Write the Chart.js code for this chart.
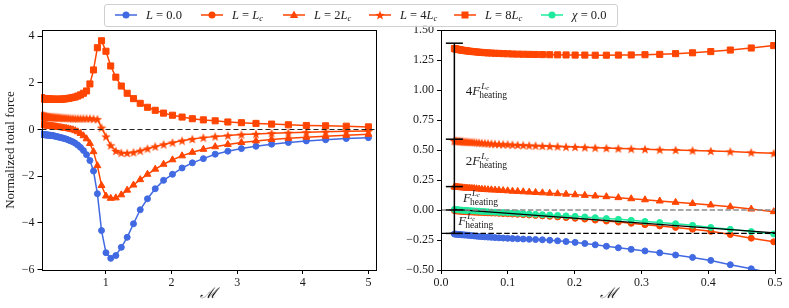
<!DOCTYPE html>
<html><head><meta charset="utf-8">
<script src="https://cdn.jsdelivr.net/npm/chart.js@4.4.1/dist/chart.umd.min.js"></script>
<style>
html,body{margin:0;padding:0;background:#fff;}
#fig{position:relative;width:789px;height:308px;overflow:hidden;font-family:"Liberation Serif",serif;background:#fff;}
canvas{position:absolute;top:0;}
#cl{left:0;}
#cr{left:390px;}
#legend{position:absolute;left:104px;top:4px;width:512px;height:21px;border:1px solid #d0d0d0;border-radius:3px;background:rgba(255,255,255,0.85);}
.ent{position:absolute;top:0;height:21px;}
.ent svg{position:absolute;top:4px;left:0;}
.ent span{position:absolute;top:3px;white-space:nowrap;font-size:12.5px;color:#222;line-height:14px;}
.ent i{font-style:italic;}
.ent sub{font-size:8.5px;vertical-align:-2px;line-height:0;}
</style></head><body>
<div id="fig">
<canvas id="cl" width="385" height="308"></canvas>
<canvas id="cr" width="399" height="308"></canvas>
<div id="legend"></div>
</div>
<script>
// ---------------- data ----------------
const M = [0.02,0.02145,0.02300,0.02467,0.02645,0.02837,0.03042,0.03262,0.03498,0.03752,
0.04023,0.04314,0.04627,0.04962,0.05321,0.05706,0.06119,0.06562,0.07037,0.07546,
0.08093,0.08679,0.09307,0.09981,0.10703,0.11478,0.12309,0.13200,0.14155,0.15180,
0.16279,0.17458,0.18721,0.20077,0.21530,0.23089,0.24760,0.26552,0.28475,0.30536,
0.32746,0.35117,0.37659,0.40386,0.43309,0.46444,0.49807,0.53412,0.57279,0.61425,
0.65872,0.70641,0.75755,0.81239,0.87120,0.93426,1.00190,1.07443,1.15221,1.23562,
1.32507,1.42099,1.52386,1.63417,1.75247,1.87934,2.01539,2.16128,2.31774,2.48553,
2.66546,2.85842,3.06535,3.28725,3.52522,3.78042,4.05410,4.34758,4.66231,5.0];

const L0 = [-.200,-.201,-.202,-.203,-.204,-.205,-.206,-.207,-.208,-.209,
-.210,-.212,-.214,-.216,-.218,-.220,-.222,-.224,-.226,-.228,
-.230,-.232,-.234,-.236,-.238,-.240,-.242,-.244,-.246,-.248,
-.252,-.257,-.263,-.270,-.279,-.290,-.302,-.315,-.328,-.341,
-.357,-.375,-.395,-.420,-.456,-.490,-.530,-.59,-.67,-.77,
-.90,-1.08,-1.33,-1.78,-2.75,-4.33,-5.28,-5.52,-5.40,-5.05,
-4.62,-4.04,-3.44,-2.97,-2.54,-2.18,-1.92,-1.65,-1.43,-1.25,
-1.06,-.93,-.82,-.72,-.63,-.56,-.49,-.44,-.39,-.35];

const L1 = [-.005,-.006,-.007,-.008,-.009,-.010,-.011,-.012,-.013,-.014,
-.015,-.016,-.017,-.018,-.019,-.020,-.021,-.022,-.024,-.025,
-.026,-.028,-.030,-.032,-.034,-.036,-.039,-.042,-.045,-.049,
-.053,-.058,-.063,-.069,-.076,-.084,-.092,-.101,-.111,-.122,
-.133,-.145,-.160,-.178,-.205,-.235,-.265];

const L2 = [.192,.191,.190,.189,.188,.187,.186,.185,.184,.183,
.182,.181,.180,.179,.177,.175,.173,.171,.169,.168,
.166,.164,.162,.160,.157,.155,.152,.149,.146,.143,
.140,.136,.132,.127,.122,.117,.111,.103,.094,.085,
.075,.064,.054,.042,.027,.008,-.014,-.05,-.10,-.17,
-.27,-.40,-.60,-.95,-1.55,-2.40,-2.85,-2.95,-2.93,-2.80,
-2.60,-2.38,-2.15,-1.92,-1.70,-1.49,-1.30,-1.13,-.98,-.85,
-.74,-.64,-.56,-.49,-.43,-.38,-.33,-.29,-.25,-.21];

const L4 = [.578,.577,.576,.575,.574,.573,.572,.571,.570,.569,
.568,.567,.566,.565,.563,.561,.559,.557,.555,.553,
.551,.549,.547,.546,.544,.542,.540,.538,.536,.534,
.532,.530,.527,.525,.522,.519,.516,.513,.510,.507,
.503,.500,.496,.492,.487,.480,.472,.47,.47,.47,
.47,.47,.47,.46,.44,.08,-.30,-.68,-.92,-1.00,
-1.01,-.98,-.91,-.82,-.73,-.64,-.56,-.48,-.41,-.35,
-.30,-.26,-.22,-.19,-.16,-.14,-.12,-.10,-.08,-.07];

const L8 = [1.345,1.343,1.341,1.339,1.337,1.335,1.333,1.331,1.329,1.327,
1.325,1.323,1.321,1.319,1.317,1.315,1.313,1.311,1.309,1.308,
1.306,1.305,1.303,1.302,1.300,1.299,1.298,1.297,1.296,1.295,
1.294,1.293,1.292,1.291,1.291,1.290,1.290,1.291,1.292,1.294,
1.297,1.303,1.310,1.320,1.333,1.350,1.370,1.39,1.43,1.48,
1.55,1.65,1.95,2.55,3.50,3.80,3.35,2.72,2.24,1.86,
1.55,1.32,1.12,.95,.82,.70,.61,.53,.46,.41,
.37,.32,.29,.26,.23,.20,.17,.155,.14,.11];

const CHI0 = [.005,.004,.003,.002,.001,.000,-.001,-.002,-.003,-.004,
-.005,-.006,-.007,-.008,-.009,-.010,-.012,-.013,-.015,-.017,
-.018,-.020,-.021,-.023,-.025,-.028,-.030,-.033,-.036,-.039,
-.042,-.045,-.049,-.053,-.058,-.064,-.071,-.078,-.086,-.095,
-.104,-.114,-.127,-.145,-.161,-.180,-.200];

// reference lines / annotation values
const zeroLevel = 0.0;
const heatingLevel = -0.195;
const slopeX = [0.02, 0.5];
const slopeY = [0.005, -0.19];
const errX = 0.02;
const errLevels = [-0.195, 0.0, 0.195, 0.59, 1.39];
const annotCoef = ['4', '2', '', ''];
const annotX = [0.037, 0.037, 0.033, 0.026];
const annotY = [0.96, 0.375, 0.07, -0.125];

// axes
const leftXLim = [0.02, 5.1], leftYLim = [-6.02, 4.26];
const rightXLim = [0.0, 0.5], rightYLim = [-0.5, 1.5];
const leftXTicks = [1, 2, 3, 4, 5];
const leftYTicks = [-6, -4, -2, 0, 2, 4];
const rightXTicks = [0.0, 0.1, 0.2, 0.3, 0.4, 0.5];
const rightYTicks = [-0.5, -0.25, 0.0, 0.25, 0.5, 0.75, 1.0, 1.25, 1.5];

// ---------------- style ----------------
const BLUE = '#4169E1', ORANGE = '#FF4500', GREEN = '#1EEA9E';
const FONT = '"Liberation Serif", "Times New Roman", serif';
const TXT = '#1a1a1a';

function starImage(color, size) {
  const c = document.createElement('canvas');
  c.width = c.height = size;
  const g = c.getContext('2d');
  g.fillStyle = color;
  g.beginPath();
  const cx = size / 2, cy = size / 2 + 0.5, R = size / 2, r = R * 0.42;
  for (let i = 0; i < 10; i++) {
    const a = -Math.PI / 2 + i * Math.PI / 5;
    const rr = (i % 2) ? r : R;
    g.lineTo(cx + rr * Math.cos(a), cy + rr * Math.sin(a));
  }
  g.closePath(); g.fill();
  return c;
}
const STAR = starImage(ORANGE, 10);

function pts(xs, ys) { return ys.map((y, i) => ({x: xs[i], y})); }

function series(label, ys, color, style, radius, order) {
  return {
    label, data: pts(M, ys), borderColor: color, backgroundColor: color,
    pointStyle: style, pointRadius: radius, pointHoverRadius: radius,
    pointBorderWidth: 1, borderWidth: 1.5, showLine: true, order
  };
}
function hline(y, xlim, color, dash, width, order) {
  return { data: [{x: xlim[0], y}, {x: xlim[1], y}], borderColor: color, borderDash: dash,
    borderWidth: width, pointRadius: 0, showLine: true, order };
}

const minus = s => s.replace('-', '\u2212');

function makeScales(xlim, ylim, xt, yt, xfmt, yfmt, yAxisWidth, ytitle) {
  const grid = { drawOnChartArea: false, drawTicks: true, tickLength: 4, color: '#000', tickWidth: 1 };
  return {
    x: {
      type: 'linear', min: xlim[0], max: xlim[1],
      afterBuildTicks: s => { s.ticks = xt.map(v => ({value: v})); },
      afterFit: s => { s.height = 38; },
      ticks: { callback: v => minus(xfmt(v)), font: {family: FONT, size: 12}, color: TXT, padding: 2, maxRotation: 0, autoSkip: false },
      grid, border: { display: false },
      title: { display: true, text: '\u2133', font: {family: FONT, size: 15, style: 'italic'}, color: TXT, padding: {top: 0, bottom: 5} }
    },
    y: {
      type: 'linear', min: ylim[0], max: ylim[1],
      afterBuildTicks: s => { s.ticks = yt.map(v => ({value: v})); },
      afterFit: s => { s.width = yAxisWidth; },
      ticks: { callback: v => minus(yfmt(v)), font: {family: FONT, size: 12}, color: TXT, padding: 3, autoSkip: false },
      grid, border: { display: false },
      title: ytitle ? { display: true, text: ytitle, font: {family: FONT, size: 13}, color: TXT, padding: {top: 3, bottom: 0} } : { display: false }
    }
  };
}

const frame = {
  id: 'frame',
  afterDraw(chart) {
    const {ctx, chartArea: a} = chart;
    ctx.save();
    ctx.strokeStyle = '#000'; ctx.lineWidth = 1;
    ctx.strokeRect(Math.round(a.left) + 0.5, Math.round(a.top) + 0.5, Math.round(a.right - a.left), Math.round(a.bottom - a.top));
    ctx.restore();
  }
};

const annots = {
  id: 'annots',
  afterDatasetsDraw(chart) {
    const {ctx, scales: {x, y}} = chart;
    ctx.save();
    ctx.fillStyle = TXT; ctx.textBaseline = 'alphabetic'; ctx.textAlign = 'left';
    for (let i = 0; i < annotCoef.length; i++) {
      let px = x.getPixelForValue(annotX[i]);
      const py = y.getPixelForValue(annotY[i]);
      ctx.font = '13px ' + FONT;
      if (annotCoef[i]) { ctx.fillText(annotCoef[i], px, py); px += ctx.measureText(annotCoef[i]).width; }
      ctx.font = 'italic 13px ' + FONT;
      ctx.fillText('F', px, py); px += ctx.measureText('F').width;
      ctx.font = 'italic 9px ' + FONT;
      ctx.fillText('L', px + 1, py - 6);
      const lw = ctx.measureText('L').width;
      ctx.font = 'italic 6.5px ' + FONT;
      ctx.fillText('c', px + 1 + lw, py - 4.5);
      ctx.font = '9.5px ' + FONT;
      ctx.fillText('heating', px - 1, py + 3);
    }
    ctx.restore();
  }
};

const common = {
  responsive: false, animation: false, events: [],
  plugins: { legend: { display: false }, tooltip: { enabled: false } }
};

// ---------------- left chart ----------------
new Chart(document.getElementById('cl'), {
  type: 'scatter',
  data: { datasets: [
    series('L = 0.0', L0, BLUE, 'circle', 3, 9),
    series('L = 2Lc', L2, ORANGE, 'triangle', 4, 8),
    series('L = 4Lc', L4, ORANGE, STAR, 4, 7),
    series('L = 8Lc', L8, ORANGE, 'rect', 4.3, 6),
    hline(zeroLevel, leftXLim, '#222', [5, 3], 1.1, 1)
  ]},
  options: Object.assign({}, common, {
    layout: { padding: { left: 0, top: 30, right: 10, bottom: 0 } },
    scales: makeScales(leftXLim, leftYLim, leftXTicks, leftYTicks, v => String(v), v => String(v), 41.5, 'Normalized total force')
  }),
  plugins: [frame]
});

// ---------------- right chart ----------------
const errVert = { data: [{x: errX, y: errLevels[0]}, {x: errX, y: errLevels[errLevels.length - 1]}],
  borderColor: '#000', borderWidth: 1.5, pointRadius: 0, showLine: true, order: 0 };
const errCaps = { data: errLevels.map(v => ({x: errX, y: v})), pointStyle: 'line', pointRadius: 8.5,
  pointBorderWidth: 1.5, borderColor: '#000', backgroundColor: '#000', showLine: false, order: 0 };
const slope = { data: pts(slopeX, slopeY), borderColor: '#000', borderWidth: 1.3, pointRadius: 0, showLine: true, order: 2 };

new Chart(document.getElementById('cr'), {
  type: 'scatter',
  data: { datasets: [
    series('L = 0.0', L0, BLUE, 'circle', 3, 12),
    series('L = Lc', L1, ORANGE, 'circle', 3, 11),
    series('L = 2Lc', L2, ORANGE, 'triangle', 4, 10),
    series('L = 4Lc', L4, ORANGE, STAR, 4, 9),
    series('L = 8Lc', L8, ORANGE, 'rect', 4.3, 8),
    series('chi = 0.0', CHI0, GREEN, 'circle', 3, 7),
    slope,
    hline(zeroLevel, rightXLim, '#8a8a8a', [5.5, 2.4], 1.4, 1),
    hline(heatingLevel, rightXLim, '#000', [5.5, 2.4], 1.4, 1),
    errVert, errCaps
  ]},
  options: Object.assign({}, common, {
    layout: { padding: { left: 0, top: 30, right: 14, bottom: 0 } },
    scales: makeScales(rightXLim, rightYLim, rightXTicks, rightYTicks, v => v.toFixed(1), v => v.toFixed(2), 51, null)
  }),
  plugins: [frame, annots]
});

// ---------------- legend ----------------
const legendItems = [
  {html: '<i>L</i> = 0.0', color: BLUE, mk: 'circle'},
  {html: '<i>L</i> = <i>L</i><sub><i>c</i></sub>', color: ORANGE, mk: 'circle'},
  {html: '<i>L</i> = 2<i>L</i><sub><i>c</i></sub>', color: ORANGE, mk: 'triangle'},
  {html: '<i>L</i> = 4<i>L</i><sub><i>c</i></sub>', color: ORANGE, mk: 'star'},
  {html: '<i>L</i> = 8<i>L</i><sub><i>c</i></sub>', color: ORANGE, mk: 'rect'},
  {html: '<i>\u03C7</i> = 0.0', color: GREEN, mk: 'circle'}
];
const legendMarkerX = [10, 96, 178, 264, 349, 436];
function markerSvg(mk, c) {
  let m = '';
  if (mk === 'circle') m = `<circle cx="11" cy="6" r="3.5" fill="${c}"/>`;
  if (mk === 'rect') m = `<rect x="7.5" y="2.5" width="7" height="7" fill="${c}"/>`;
  if (mk === 'triangle') m = `<polygon points="11,1.5 15.2,9 6.8,9" fill="${c}"/>`;
  if (mk === 'star') {
    let p = [];
    for (let i = 0; i < 10; i++) { const a = -Math.PI/2 + i*Math.PI/5; const r = i % 2 ? 2.1 : 5; p.push((11 + r*Math.cos(a)).toFixed(2) + ',' + (6.5 + r*Math.sin(a)).toFixed(2)); }
    m = `<polygon points="${p.join(' ')}" fill="${c}"/>`;
  }
  return `<svg width="22" height="12"><line x1="0" y1="6" x2="22" y2="6" stroke="${c}" stroke-width="1.5"/>${m}</svg>`;
}
const lg = document.getElementById('legend');
legendItems.forEach((it, i) => {
  const d = document.createElement('div');
  d.className = 'ent';
  d.style.left = legendMarkerX[i] + 'px';
  d.innerHTML = markerSvg(it.mk, it.color) + `<span style="left:31px">${it.html}</span>`;
  lg.appendChild(d);
});
</script>
</body></html>
